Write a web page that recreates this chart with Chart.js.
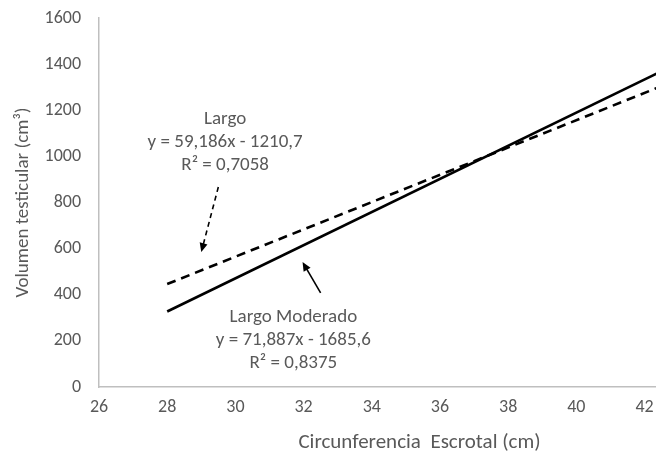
<!DOCTYPE html>
<html>
<head>
<meta charset="utf-8">
<script src="https://cdn.jsdelivr.net/npm/chart.js@4"></script>
<style>
  html, body { margin: 0; padding: 0; background: #fff; overflow: hidden; }
  #wrap { width: 760px; height: 455px; }
</style>
</head>
<body>
<div id="wrap"><canvas id="myChart" width="760" height="455"></canvas></div>
<script>
// trend lines: end points from the fitted equations
const xEnds = [28, 43.5];
const largoModerado = [327.2, 1441.5];   // y = 71,887x - 1685,6
const largo = [446.5, 1363.9];           // y = 59,186x - 1210,7

const xTicks = [26, 28, 30, 32, 34, 36, 38, 40, 42, 44];
const yTicks = [0, 200, 400, 600, 800, 1000, 1200, 1400, 1600];

const largoLabel = ['Largo', 'y = 59,186x - 1210,7', 'R² = 0,7058'];
const moderadoLabel = ['Largo Moderado', 'y = 71,887x - 1685,6', 'R² = 0,8375'];

const FONT = 'Carlito, Lato, sans-serif';
const GREY = '#595959';

// arrows + equation texts, placed in data units
const notes = {
  id: 'notes',
  afterDatasetsDraw(chart) {
    const { ctx, scales: { x, y } } = chart;
    const px = (v) => x.getPixelForValue(v);
    const py = (v) => y.getPixelForValue(v);

    function arrow(x0, y0, x1, y1, dash) {
      const ax = px(x0), ay = py(y0), bx = px(x1), by = py(y1);
      const ang = Math.atan2(by - ay, bx - ax);
      ctx.save();
      ctx.strokeStyle = '#000';
      ctx.fillStyle = '#000';
      ctx.lineWidth = 1.6;
      ctx.setLineDash(dash);
      ctx.beginPath();
      ctx.moveTo(ax, ay);
      ctx.lineTo(bx - 6 * Math.cos(ang), by - 6 * Math.sin(ang));
      ctx.stroke();
      ctx.setLineDash([]);
      ctx.beginPath();
      ctx.moveTo(bx, by);
      ctx.lineTo(bx - 9 * Math.cos(ang) + 4 * Math.sin(ang), by - 9 * Math.sin(ang) - 4 * Math.cos(ang));
      ctx.lineTo(bx - 9 * Math.cos(ang) - 4 * Math.sin(ang), by - 9 * Math.sin(ang) + 4 * Math.cos(ang));
      ctx.closePath();
      ctx.fill();
      ctx.restore();
    }

    function block(lines, cx, cy, step) {
      ctx.save();
      ctx.font = '19px ' + FONT;
      ctx.fillStyle = GREY;
      ctx.textAlign = 'center';
      ctx.textBaseline = 'middle';
      lines.forEach((t, i) => ctx.fillText(t, px(cx), py(cy) + i * step));
      ctx.restore();
    }

    arrow(29.5, 867, 29.0, 585, [5, 4]);
    arrow(32.5, 408, 31.97, 542, []);
    block(largoLabel, 29.7, 1162, 23);
    block(moderadoLabel, 31.7, 304, 23);
  }
};

const ctx = document.getElementById('myChart').getContext('2d');
const myChart = new Chart(ctx, {
  type: 'line',
  data: {
    datasets: [
      {
        label: 'Largo Moderado',
        data: xEnds.map((v, i) => ({ x: v, y: largoModerado[i] })),
        borderColor: '#000',
        borderWidth: 2.6,
        pointRadius: 0,
        fill: false,
      },
      {
        label: 'Largo',
        data: xEnds.map((v, i) => ({ x: v, y: largo[i] })),
        borderColor: '#000',
        borderWidth: 2.6,
        borderDash: [9, 6],
        pointRadius: 0,
        fill: false,
      },
    ],
  },
  options: {
    responsive: false,
    animation: false,
    layout: { padding: { top: 0, right: 20, left: 8, bottom: 0 } },
    plugins: { legend: { display: false }, tooltip: { enabled: false } },
    scales: {
      x: {
        type: 'linear',
        min: 26,
        max: 44.8,
        afterBuildTicks: (s) => { s.ticks = xTicks.map((v) => ({ value: v })); },
        afterFit: (s) => { s.height = 68; },
        grid: { display: false, drawTicks: false },
        border: { color: '#bfbfbf', width: 1.5 },
        ticks: { color: GREY, font: { family: FONT, size: 18 }, padding: 10, maxRotation: 0, callback: (v) => String(v) },
        title: {
          display: true,
          text: 'Circunferencia  Escrotal (cm)',
          color: GREY,
          font: { family: FONT, size: 21 },
          padding: { top: 13, bottom: 0 },
        },
      },
      y: {
        min: 0,
        max: 1600,
        afterBuildTicks: (s) => { s.ticks = yTicks.map((v) => ({ value: v })); },
        afterFit: (s) => { s.width = 91; s.paddingTop = 18; s.paddingBottom = 0; },
        grid: { display: false, drawTicks: false },
        border: { color: '#bfbfbf', width: 1.5 },
        ticks: { color: GREY, font: { family: FONT, size: 18 }, padding: 18, callback: (v) => String(v) },
        title: {
          display: true,
          text: 'Volumen testicular (cm³)',
          color: GREY,
          font: { family: FONT, size: 19 },
          padding: { bottom: 0 },
        },
      },
    },
  },
  plugins: [notes],
});
</script>
</body>
</html>
